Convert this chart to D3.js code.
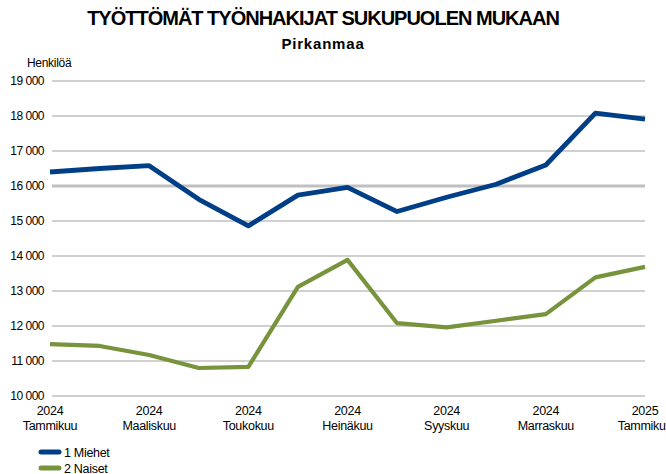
<!DOCTYPE html>
<html>
<head>
<meta charset="utf-8">
<script src="https://cdn.jsdelivr.net/npm/d3@7"></script>
<style>
  body { margin: 0; background: #fff; }
  svg { display: block; font-family: "Liberation Sans", Arial, sans-serif; }
</style>
</head>
<body>
<svg id="chart" width="666" height="474"></svg>
<script>
// kuukaudet ja arvot
var kuukaudet = ["2024-01","2024-02","2024-03","2024-04","2024-05","2024-06","2024-07",
                 "2024-08","2024-09","2024-10","2024-11","2024-12","2025-01"];
var miehet = [16400, 16500, 16580, 15620, 14860, 15740, 15960, 15270, 15680, 16050, 16600, 18080, 17910];
var naiset = [11480, 11430, 11170, 10800, 10830, 13120, 13890, 12080, 11960, 12150, 12340, 13390, 13690];
var yTicks = [10000, 11000, 12000, 13000, 14000, 15000, 16000, 17000, 18000, 19000];
var xVuodet = ["2024","2024","2024","2024","2024","2024","2025"];
var xKuut = ["Tammikuu","Maaliskuu","Toukokuu","Heinäkuu","Syyskuu","Marraskuu","Tammikuu"];
var sarjat = [
  { nimi: "1 Miehet", arvot: miehet, vari: "#003f87", leveys: 4.8 },
  { nimi: "2 Naiset", arvot: naiset, vari: "#77933c", leveys: 4.2 }
];

var svg = d3.select("#chart");

var x = d3.scalePoint()
  .domain(kuukaudet)
  .range([50, 645]);

var y = d3.scaleLinear()
  .domain([10000, 19000])
  .range([396, 81]);

var muoto = function(d){ return d3.format(",")(d).replace(",", " "); };

// otsikot
svg.append("text")
  .attr("x", 323).attr("y", 25)
  .attr("text-anchor", "middle")
  .attr("font-size", 20).attr("font-weight", "bold")
  .attr("letter-spacing", -1)
  .text("TYÖTTÖMÄT TYÖNHAKIJAT SUKUPUOLEN MUKAAN");

svg.append("text")
  .attr("x", 323).attr("y", 49)
  .attr("text-anchor", "middle")
  .attr("font-size", 15).attr("font-weight", "bold")
  .attr("letter-spacing", 0.8)
  .text("Pirkanmaa");

svg.append("text")
  .attr("x", 27).attr("y", 67)
  .attr("font-size", 12).attr("letter-spacing", -0.3)
  .text("Henkilöä");

// ruudukko
svg.append("g")
  .selectAll("line")
  .data(yTicks)
  .enter()
  .append("line")
  .attr("x1", 52).attr("x2", 645)
  .attr("y1", function(d){ return y(d); })
  .attr("y2", function(d){ return y(d); })
  .attr("stroke", "#c0c0c0")
  .attr("stroke-width", function(d){ return d == 16000 ? 3 : 1.5; });

// y-akselin tekstit
svg.append("g")
  .selectAll("text")
  .data(yTicks)
  .enter()
  .append("text")
  .attr("x", 44)
  .attr("y", function(d){ return y(d) + 4; })
  .attr("text-anchor", "end")
  .attr("font-size", 12).attr("letter-spacing", -0.5)
  .attr("fill", "#000")
  .text(muoto);

// x-akselin tekstit joka toinen kuukausi
var xKohdat = kuukaudet.filter(function(d, i){ return i % 2 == 0; });
var xg = svg.append("g")
  .selectAll("g")
  .data(xKohdat)
  .enter()
  .append("g")
  .attr("transform", function(d){ return "translate(" + x(d) + ",0)"; });
xg.append("text")
  .attr("y", 415)
  .attr("text-anchor", "middle")
  .attr("font-size", 12.5).attr("letter-spacing", -0.3)
  .text(function(d, i){ return xVuodet[i]; });
xg.append("text")
  .attr("y", 430)
  .attr("text-anchor", "middle")
  .attr("font-size", 12.5).attr("letter-spacing", -0.3)
  .text(function(d, i){ return xKuut[i]; });

// viivat
var viiva = d3.line()
  .x(function(d, i){ return x(kuukaudet[i]); })
  .y(function(d){ return y(d); });

svg.append("g")
  .selectAll("path")
  .data(sarjat)
  .enter()
  .append("path")
  .attr("d", function(d){ return viiva(d.arvot); })
  .attr("fill", "none")
  .attr("stroke", function(d){ return d.vari; })
  .attr("stroke-width", function(d){ return d.leveys; })
  .attr("stroke-linejoin", "round");

// selite
var selite = svg.append("g")
  .selectAll("g")
  .data(sarjat)
  .enter()
  .append("g")
  .attr("transform", function(d, i){ return "translate(0," + (452 + i * 16) + ")"; });
selite.append("line")
  .attr("x1", 41).attr("x2", 59)
  .attr("stroke", function(d){ return d.vari; })
  .attr("stroke-width", 5)
  .attr("stroke-linecap", "round");
selite.append("text")
  .attr("x", 64).attr("y", 4.5)
  .attr("font-size", 12.5).attr("letter-spacing", -0.3)
  .text(function(d){ return d.nimi; });
</script>
</body>
</html>
